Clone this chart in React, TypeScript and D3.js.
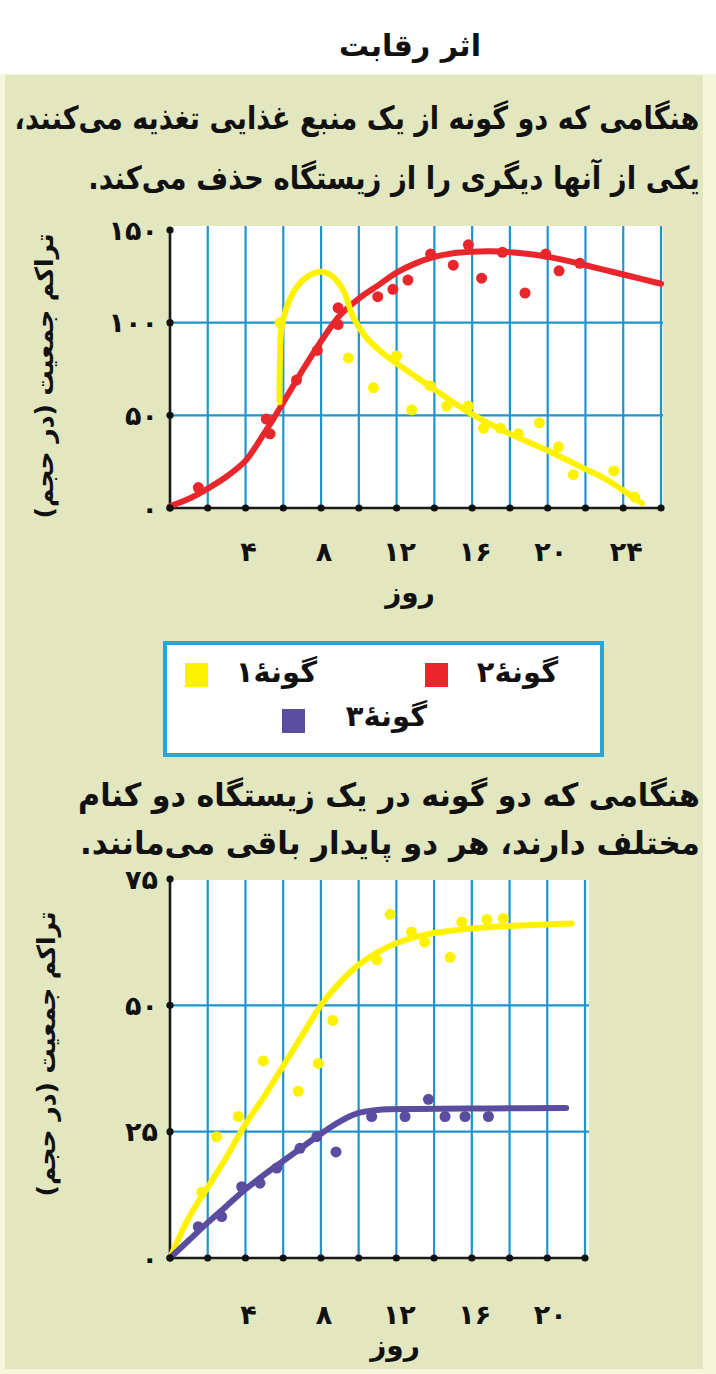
import React, { useEffect, useLayoutEffect, useRef, useState } from 'react';
import * as d3 from 'd3';

const W = 716;
const H = 1374;
const FONT = "'DejaVu Sans', 'Noto Sans', sans-serif";

// ---------- texts ----------
const titleText = 'اثر رقابت';
const para1Lines = [
  'هنگامی که دو گونه از یک منبع غذایی تغذیه می\u200cکنند،',
  'یکی از آنها دیگری را از زیستگاه حذف می\u200cکند.',
];
const para2Lines = [
  'هنگامی که دو گونه در یک زیستگاه دو کنام',
  'مختلف دارند، هر دو پایدار باقی می\u200cمانند.',
];
const yTitle = 'تراکم جمعیت (در حجم)';
const xTitle = 'روز';
const legendNames = ['گونهٔ۱', 'گونهٔ۲', 'گونهٔ۳'];
const legendColors = ['#fff200', '#e8262b', '#5a4c9f'];

// ---------- ticks ----------
const topXTicks = [4, 8, 12, 16, 20, 24];
const topYTicks = [0, 50, 100, 150];
const botXTicks = [4, 8, 12, 16, 20];
const botYTicks = [0, 25, 50, 75];

// ---------- top chart data ----------
// species 2 (red) observations
const topRedDays = [1.5, 5.1, 5.3, 6.7, 7.8, 8.9, 8.9, 11, 11.8, 12.6, 13.8, 15, 15.8, 16.5, 17.6, 18.8, 19.9, 20.6, 21.7];
const topRedVals = [11, 48, 40, 69, 85, 108, 99, 114, 118, 123, 137, 131, 142, 124, 138, 116, 137, 128, 132];
// species 2 (red) fitted curve
const topRedCurveDays = [0, 1, 2, 3, 4, 4.5, 5, 5.5, 6, 7, 8, 9, 10, 11, 12, 13, 14, 15, 16, 17, 18, 19, 20, 21, 22, 23, 24, 25, 26];
const topRedCurveVals = [1, 5, 10.5, 17, 25.5, 32.5, 40.5, 48.5, 57, 74, 90, 104, 113, 120, 127, 132, 135.5, 137.5, 138.3, 138.5, 138, 137, 135.5, 133.5, 131, 128.5, 126, 123.5, 121];
// species 1 (yellow) observations
const topYelDays = [5.83, 9.45, 10.77, 12.0, 12.8, 13.77, 14.65, 15.8, 16.6, 17.5, 18.45, 19.56, 20.57, 21.36, 23.5, 24.6];
const topYelVals = [100, 81, 65, 82, 53, 66, 55, 55, 43, 43, 40, 46, 33, 18, 20, 6];
// species 1 (yellow) fitted curve
const topYelCurveDays = [5.8, 5.82, 5.9, 6.2, 6.7, 7.3, 8, 8.6, 9.2, 9.7, 10.4, 11.1, 12, 13, 14, 15, 16, 17, 18, 19, 20, 21, 22, 23, 24, 25];
const topYelCurveVals = [57, 80, 97, 109, 119, 125, 127.5, 125, 117, 103, 92, 85, 78, 71, 64, 57, 50.5, 45, 40, 35.5, 31, 26, 21, 16, 9.5, 2.5];

// ---------- bottom chart data ----------
const botYelDays = [1.68, 2.47, 3.62, 4.95, 6.8, 7.87, 8.63, 10.96, 11.67, 12.8, 13.5, 14.85, 15.47, 16.8, 17.67];
const botYelVals = [13, 24, 28, 39, 33, 38.5, 47, 59, 68, 64.5, 62.5, 59.5, 66.5, 67, 67.2];
const botYelCurveDays = [0, 1, 2, 3, 4, 5, 6, 7, 8, 9, 10, 11, 12, 13, 14, 15, 16, 18, 20, 21.3];
const botYelCurveVals = [0, 8, 14, 20, 26.5, 32, 38, 44, 50, 54.5, 58, 60.5, 62.3, 63.5, 64.3, 64.8, 65.2, 65.7, 66, 66.2];
const botPurDays = [1.5, 2.74, 3.8, 4.77, 5.66, 6.89, 7.78, 8.8, 10.69, 12.46, 13.7, 14.58, 15.64, 16.88];
const botPurVals = [6.2, 8.2, 14.1, 14.8, 17.8, 21.7, 24, 21, 28, 28, 31.4, 28, 28, 28];
const botPurCurveDays = [0, 1, 2, 3, 4, 5, 6, 7, 8, 9, 10, 11, 13, 17, 21];
const botPurCurveVals = [0, 3.5, 7, 10.3, 13.6, 16.5, 19.2, 21.9, 24.6, 27, 28.7, 29.3, 29.5, 29.6, 29.7];

const faDigits = '۰۱۲۳۴۵۶۷۸۹';
const toFa = (n: number) => String(n).replace(/\d/g, (c) => faDigits[+c]);

const GRID = '#1f95cf';
const BG = '#e2e7bf';

function FitText(props: { x: number; y: number; width: number; fontSize: number; children: string }) {
  const ref = useRef<SVGTextElement>(null);
  const [sx, setSx] = useState(1);
  useLayoutEffect(() => {
    if (ref.current) {
      const w = ref.current.getComputedTextLength();
      if (w > 0) setSx(props.width / w);
    }
  }, [props.width, props.children, props.fontSize]);
  return (
    <text
      ref={ref}
      transform={`translate(${props.x},${props.y}) scale(${sx},1)`}
      textAnchor="middle"
      dominantBaseline="central"
      fontSize={props.fontSize}
      fontWeight="bold"
      fontFamily={FONT}
      fill="#111"
      direction="rtl"
    >
      {props.children}
    </text>
  );
}

type Series = { days: number[]; vals: number[]; color: string; width: number; r: number };

function Chart(props: {
  x0: number; x1: number; y0: number; y1: number; plotTop: number; plotRight: number;
  xMax: number; yMax: number; xTicks: number[]; yTicks: number[]; hLines: number[];
  curves: Series[]; points: Series[]; xLabelY: number; xTitlePos: [number, number]; yTitlePos: [number, number];
}) {
  const x = d3.scaleLinear().domain([0, props.xMax]).range([props.x0, props.x1]);
  const y = d3.scaleLinear().domain([0, props.yMax]).range([props.y0, props.y1]);
  const line = d3
    .line<[number, number]>()
    .x((d) => x(d[0]))
    .y((d) => y(d[1]))
    .curve(d3.curveCatmullRom.alpha(0.5));
  const vgrid = d3.range(2, props.xMax + 0.1, 2);
  const dots = d3.range(0, props.xMax + 0.1, 2);
  return (
    <g>
      <rect x={props.x0} y={props.plotTop} width={props.plotRight - props.x0} height={props.y0 - props.plotTop} fill="#ffffff" />
      {vgrid.map((d) => (
        <line key={'v' + d} x1={x(d)} x2={x(d)} y1={props.plotTop} y2={props.y0} stroke={GRID} strokeWidth={2.2} />
      ))}
      {props.hLines.map((v) => (
        <line key={'h' + v} x1={props.x0} x2={props.plotRight} y1={y(v)} y2={y(v)} stroke={GRID} strokeWidth={2.2} />
      ))}
      <line x1={props.x0} x2={props.x0} y1={props.y1 - 2} y2={props.y0} stroke="#1a1a1a" strokeWidth={2.6} />
      <line x1={props.x0} x2={props.x1} y1={props.y0} y2={props.y0} stroke="#1a1a1a" strokeWidth={2.6} />
      {props.curves.map((s, i) => (
        <path key={'c' + i} d={line(d3.zip(s.days, s.vals) as [number, number][]) || ''} fill="none" stroke={s.color} strokeWidth={s.width} strokeLinecap="round" strokeLinejoin="round" />
      ))}
      {props.points.map((s, i) =>
        s.days.map((d, j) => <circle key={'p' + i + '-' + j} cx={x(d)} cy={y(s.vals[j])} r={s.r} fill={s.color} />)
      )}
      {dots.map((d) => (
        <circle key={'xd' + d} cx={x(d)} cy={props.y0} r={3.6} fill="#111" />
      ))}
      {props.yTicks.map((v) => (
        <circle key={'yd' + v} cx={props.x0} cy={y(v)} r={3.6} fill="#111" />
      ))}
      {props.yTicks.map((v) => (
        <text key={'yl' + v} x={props.x0 - 12} y={y(v)} textAnchor="end" dominantBaseline="central" fontSize={27} fontWeight="bold" fontFamily={FONT} fill="#111">
          {toFa(v)}
        </text>
      ))}
      {props.xTicks.map((d) => (
        <text key={'xl' + d} x={x(d) + 3} y={props.xLabelY} textAnchor="middle" dominantBaseline="central" fontSize={27} fontWeight="bold" fontFamily={FONT} fill="#111">
          {toFa(d)}
        </text>
      ))}
      <text x={props.xTitlePos[0]} y={props.xTitlePos[1]} textAnchor="middle" dominantBaseline="central" fontSize={28} fontWeight="bold" fontFamily={FONT} fill="#111" direction="rtl">
        {xTitle}
      </text>
      <text transform={`translate(${props.yTitlePos[0]},${props.yTitlePos[1]}) rotate(-90)`} textAnchor="middle" dominantBaseline="central" fontSize={25} fontWeight="bold" fontFamily={FONT} fill="#111" direction="rtl">
        {yTitle}
      </text>
    </g>
  );
}

export default function App() {
  useEffect(() => {
    document.body.style.margin = '0';
  }, []);
  return (
    <svg width={W} height={H} style={{ position: 'absolute', left: 0, top: 0, display: 'block' }}>
      <rect x={0} y={0} width={W} height={H} fill="#f4f7da" />
      <rect x={0} y={0} width={W} height={74} fill="#ffffff" />
      <rect x={5} y={75} width={698} height={1294} fill={BG} />
      <text x={410} y={45} textAnchor="middle" dominantBaseline="central" fontSize={30} fontWeight="bold" fontFamily={FONT} fill="#111" direction="rtl">
        {titleText}
      </text>
      <FitText x={357} y={118} width={685} fontSize={32}>{para1Lines[0]}</FitText>
      <FitText x={394} y={178} width={612} fontSize={32}>{para1Lines[1]}</FitText>

      <Chart
        x0={170} x1={661} y0={508} y1={230} plotTop={226} plotRight={663}
        xMax={26} yMax={150} xTicks={topXTicks} yTicks={topYTicks} hLines={[50, 100]}
        curves={[
          { days: topRedCurveDays, vals: topRedCurveVals, color: legendColors[1], width: 6, r: 0 },
          { days: topYelCurveDays, vals: topYelCurveVals, color: legendColors[0], width: 6, r: 0 },
        ]}
        points={[
          { days: topRedDays, vals: topRedVals, color: legendColors[1], width: 0, r: 5.5 },
          { days: topYelDays, vals: topYelVals, color: legendColors[0], width: 0, r: 5.5 },
        ]}
        xLabelY={551} xTitlePos={[410, 592]} yTitlePos={[44, 376]}
      />

      {/* legend */}
      <rect x={165} y={643} width={437} height={112} fill="#ffffff" stroke="#27a6dc" strokeWidth={4} />
      <rect x={185} y={663} width={23} height={24} fill={legendColors[0]} />
      <rect x={425} y={663} width={23} height={24} fill={legendColors[1]} />
      <rect x={282} y={709} width={23} height={24} fill={legendColors[2]} />
      <text x={317} y={672} textAnchor="end" dominantBaseline="central" fontSize={29} fontWeight="bold" fontFamily={FONT} fill="#111">{legendNames[0]}</text>
      <text x={558} y={672} textAnchor="end" dominantBaseline="central" fontSize={29} fontWeight="bold" fontFamily={FONT} fill="#111">{legendNames[1]}</text>
      <text x={427} y={716} textAnchor="end" dominantBaseline="central" fontSize={29} fontWeight="bold" fontFamily={FONT} fill="#111">{legendNames[2]}</text>

      <FitText x={389} y={795} width={622} fontSize={32}>{para2Lines[0]}</FitText>
      <FitText x={390} y={843} width={620} fontSize={32}>{para2Lines[1]}</FitText>

      <Chart
        x0={170} x1={585} y0={1258} y1={879} plotTop={880} plotRight={589}
        xMax={22} yMax={75} xTicks={botXTicks} yTicks={botYTicks} hLines={[25, 50]}
        curves={[
          { days: botYelCurveDays, vals: botYelCurveVals, color: legendColors[0], width: 6, r: 0 },
          { days: botPurCurveDays, vals: botPurCurveVals, color: legendColors[2], width: 6, r: 0 },
        ]}
        points={[
          { days: botYelDays, vals: botYelVals, color: legendColors[0], width: 0, r: 5.5 },
          { days: botPurDays, vals: botPurVals, color: legendColors[2], width: 0, r: 5.5 },
        ]}
        xLabelY={1314} xTitlePos={[395, 1345]} yTitlePos={[46, 1054]}
      />
    </svg>
  );
}
